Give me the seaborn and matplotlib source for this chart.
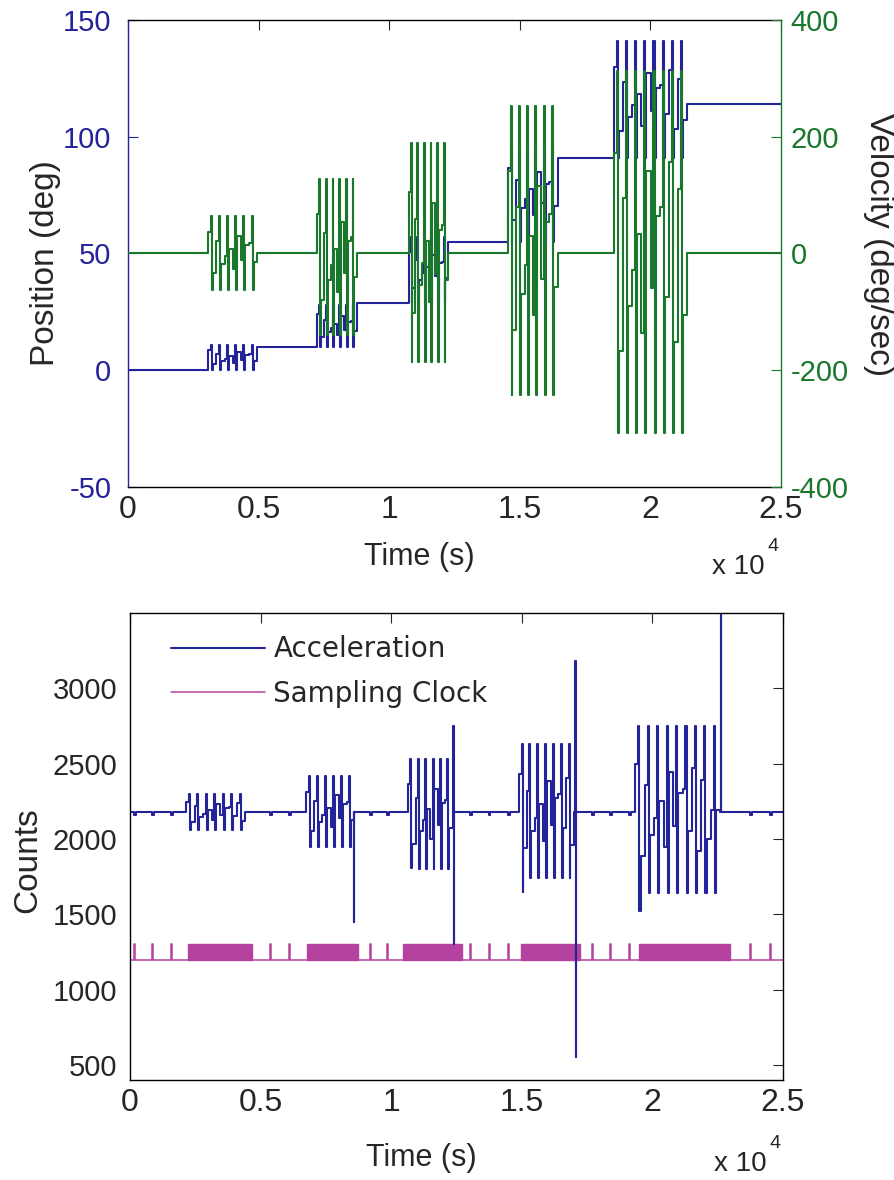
import numpy as np
import matplotlib
matplotlib.use('Agg')
import matplotlib.pyplot as plt
import seaborn as sns
from matplotlib.ticker import FuncFormatter

# ---- top panel: position / velocity bursts ----
burst_t0 = [3070, 7250, 10750, 14550, 18600]
burst_t1 = [4950, 8780, 12270, 16450, 21420]
burst_cycles = [6, 6, 6, 6, 8]
pos_hold = [0, 10, 29, 55, 91, 114]   # level before / after each burst
pos_lo = [0, 10, 29, 55, 91]
pos_hi = [11, 28, 57, 96, 141]
vel_hi = [65, 128, 190, 252, 312]
vel_lo = [-62, -140, -186, -242, -307]

# ---- bottom panel: acceleration counts and sampling clock ----
acc_base = 2180
acc_t0 = [2150, 6750, 10650, 14900, 19350]
acc_t1 = [4420, 8600, 12350, 17000, 22600]
acc_cycles = [7, 6, 6, 7, 9]
acc_lo = [2060, 1950, 1800, 1740, 1640]
acc_hi = [2300, 2420, 2530, 2630, 2750]
acc_dip = [2060, 1950, 1810, 1650, 1520]
spike_t = [8560, 12380, 17040, 22620]
spike_hi = [2180, 2750, 3180, 3600]
spike_lo = [1450, 1300, 550, 2180]

clock_low, clock_high = 1200, 1300
clock_pulses = [150, 840, 1570, 5360, 6090, 9190, 9840, 13020, 13740,
                14470, 17690, 18380, 19110, 23740, 24500]
clock_busy_start = [2220, 6780, 10450, 14970, 19490]
clock_busy_end = [4670, 8730, 12710, 17230, 22970]

# within-cycle look of the sampled sine (fractions of one cycle / levels)
cycle_frac = [0.0, 0.30, 0.42, 0.54]
cycle_mid = [0.55, 0.3, -0.1, -0.45, -0.2, 0.25, 0.5, 0.35, 0.0]

T_END = 25000
BLUE = '#23239a'
GREEN = '#19782c'
MAGENTA = '#b5429f'
SANS = ['Liberation Sans', 'DejaVu Sans']


def burst(t0, t1, n, lo, hi, first=None):
    # stepped oscillation between lo and hi, n cycles from t0 to t1
    P = (t1 - t0) / n
    ts, vs = [], []
    for k in range(n):
        m = cycle_mid[k % len(cycle_mid)]
        levels = [m, 1.0, -1.0, -m]
        for f, v in zip(cycle_frac, levels):
            ts.append(t0 + k * P + f * P)
            vs.append(lo + (hi - lo) * (v + 1) / 2)
    if first is not None:
        vs[2] = first
    return ts, vs


def build_top():
    pt, pv = [0], [pos_hold[0]]
    vt, vv = [0], [0]
    for i in range(len(burst_t0)):
        pt.append(burst_t0[i] - 1)
        pv.append(pos_hold[i])
        a, b = burst(burst_t0[i], burst_t1[i], burst_cycles[i], pos_lo[i], pos_hi[i])
        pt += a
        pv += b
        pt.append(burst_t1[i])
        pv.append(pos_hold[i + 1])
        a, b = burst(burst_t0[i], burst_t1[i], burst_cycles[i], vel_lo[i], vel_hi[i])
        vt += a
        vv += b
        vt.append(burst_t1[i])
        vv.append(0)
    pt.append(T_END)
    pv.append(pos_hold[-1])
    vt.append(T_END)
    vv.append(0)
    return np.array(pt), np.array(pv), np.array(vt), np.array(vv)


def build_acc():
    events = []
    for i in range(len(acc_t0)):
        a, b = burst(acc_t0[i], acc_t1[i], acc_cycles[i], acc_lo[i], acc_hi[i], acc_dip[i])
        events += list(zip(a, b))
        events.append((acc_t1[i], acc_base))
    for t, hi, lo in zip(spike_t, spike_hi, spike_lo):
        events += [(t, hi), (t + 15, lo), (t + 30, acc_base)]
    for t in clock_pulses:
        events += [(t, acc_base - 18), (t + 60, acc_base)]
    events.sort()
    t = [0] + [e[0] for e in events] + [T_END]
    v = [acc_base] + [e[1] for e in events] + [acc_base]
    return np.array(t), np.array(v)


def build_clock():
    t, v = [0], [clock_low]
    for p in clock_pulses:
        t += [p, p + 40]
        v += [clock_high, clock_low]
    t.append(T_END)
    v.append(clock_low)
    return np.array(t), np.array(v)


def style_x(ax, label_y, exp_y):
    ax.set_xlim(0, T_END)
    ax.set_xticks([0, 5000, 10000, 15000, 20000, 25000])
    ax.xaxis.set_major_formatter(FuncFormatter(lambda x, p: f'{x / 1e4:g}'))
    ax.tick_params(axis='x', direction='in', top=True, length=7, width=0.8,
                   labelsize=23, pad=6)
    ax.set_xlabel('')
    ax.text(0.446, label_y, 'Time (s)', transform=ax.transAxes, ha='center',
            va='center', fontsize=22)
    ax.text(0.895, exp_y, 'x 10', transform=ax.transAxes, ha='left',
            va='center', fontsize=20)
    ax.text(0.98, exp_y + 0.045, '4', transform=ax.transAxes, ha='left',
            va='center', fontsize=14)


sns.set_theme(style='white')
plt.rcParams['font.family'] = SANS
plt.rcParams['axes.unicode_minus'] = False

fig = plt.figure(figsize=(8.95, 11.8), dpi=100)
ax1 = fig.add_axes([0.143, 0.5873, 0.7296, 0.3958])
ax2 = ax1.twinx()
ax3 = fig.add_axes([0.1453, 0.0847, 0.7296, 0.3958])

pt, pv, vt, vv = build_top()
sns.lineplot(x=pt, y=pv, ax=ax1, color=BLUE, lw=1.5, drawstyle='steps-post',
             estimator=None, sort=False)
sns.lineplot(x=vt, y=vv, ax=ax2, color=GREEN, lw=1.5, drawstyle='steps-post',
             estimator=None, sort=False)

ax1.set_ylim(-50, 150)
ax1.set_yticks([-50, 0, 50, 100, 150])
ax2.set_ylim(-400, 400)
ax2.set_yticks([-400, -200, 0, 200, 400])
style_x(ax1, -0.15, -0.172)
ax1.tick_params(axis='y', direction='in', length=7, width=0.8, colors=BLUE,
                labelsize=21, pad=12)
ax2.tick_params(axis='y', direction='in', length=7, width=0.8, colors=GREEN,
                labelsize=21, pad=7)
ax1.set_ylabel('')
ax2.set_ylabel('')
ax1.text(-0.127, 0.48, 'Position (deg)', transform=ax1.transAxes, rotation=90,
         ha='center', va='center', fontsize=24)
ax2.text(1.15, 0.518, 'Velocity (deg/sec)', transform=ax2.transAxes,
         rotation=-90, ha='center', va='center', fontsize=24)

for s in ['top', 'bottom']:
    ax1.spines[s].set_color('black')
    ax2.spines[s].set_visible(False)
ax1.spines['left'].set_color(BLUE)
ax1.spines['right'].set_visible(False)
ax2.spines['left'].set_visible(False)
ax2.spines['right'].set_color(GREEN)
for s in ax1.spines.values():
    s.set_linewidth(1.0)
ax2.spines['right'].set_linewidth(1.0)

# bottom panel
ct, cv = build_clock()
sns.lineplot(x=ct, y=cv, ax=ax3, color=MAGENTA, lw=1.1, drawstyle='steps-post',
             estimator=None, sort=False)
for a, b in zip(clock_busy_start, clock_busy_end):
    ax3.fill_between([a, b], clock_low, clock_high, color=MAGENTA, lw=1.0)
at, av = build_acc()
sns.lineplot(x=at, y=av, ax=ax3, color=BLUE, lw=1.5, drawstyle='steps-post',
             estimator=None, sort=False)

ax3.set_ylim(400, 3500)
ax3.set_yticks([500, 1000, 1500, 2000, 2500, 3000])
style_x(ax3, -0.167, -0.18)
ax3.tick_params(axis='y', direction='in', right=True, length=7, width=0.8,
                labelsize=21, pad=9)
ax3.set_ylabel('')
ax3.text(-0.157, 0.47, 'Counts', transform=ax3.transAxes, rotation=90,
         ha='center', va='center', fontsize=24)
for s in ax3.spines.values():
    s.set_color('black')
    s.set_linewidth(1.0)

h_acc = ax3.lines[-1]
h_clk = ax3.lines[0]
ax3.legend([h_acc, h_clk], ['Acceleration', 'Sampling Clock'], loc='upper left',
           bbox_to_anchor=(0.041, 0.982), frameon=False, borderpad=0,
           prop={'family': 'DejaVu Sans', 'size': 20}, handlelength=3.4,
           handletextpad=0.3, labelspacing=0.6)

fig.savefig('out.png', dpi=100, facecolor='white')
